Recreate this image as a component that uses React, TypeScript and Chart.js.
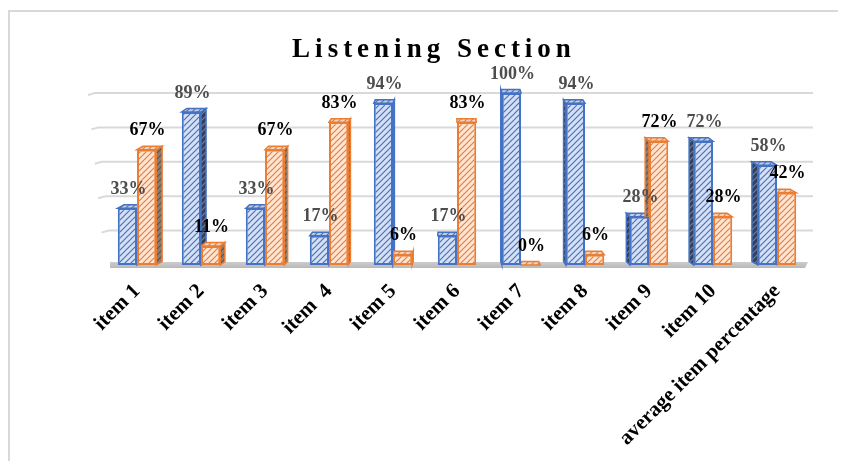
import React, { useEffect, useRef } from "react";
import { Chart, registerables } from "chart.js";

Chart.register(...registerables);

const categories = [
  "item 1",
  "item 2",
  "item 3",
  "item  4",
  "item 5",
  "item 6",
  "item 7",
  "item 8",
  "item 9",
  "item 10",
  "average item percentage",
];
const seriesBlue = [33, 89, 33, 17, 94, 17, 100, 94, 28, 72, 58];
const seriesOrange = [67, 11, 67, 83, 6, 83, 0, 6, 72, 28, 42];
const yTickValues = [0, 20, 40, 60, 80, 100];
const titleText = "Listening Section";

const SERIF = '"Liberation Serif", "Times New Roman", serif';

function makePattern(bg: string, fg: string, size = 6, lw = 1.2): CanvasPattern | string {
  const c = document.createElement("canvas");
  c.width = size;
  c.height = size;
  const g = c.getContext("2d");
  if (!g) return bg;
  g.fillStyle = bg;
  g.fillRect(0, 0, size, size);
  g.strokeStyle = fg;
  g.lineWidth = lw;
  g.beginPath();
  g.moveTo(0, size);
  g.lineTo(size, 0);
  g.moveTo(-size / 2, size / 2);
  g.lineTo(size / 2, -size / 2);
  g.moveTo(size / 2, size + size / 2);
  g.lineTo(size + size / 2, size / 2);
  g.stroke();
  const p = g.createPattern(c, "repeat");
  return p || bg;
}

export default function App() {
  const ref = useRef<HTMLCanvasElement | null>(null);

  useEffect(() => {
    if (!ref.current) return;
    const blueFront = makePattern("#d6e0f2", "#4472c4");
    const orangeFront = makePattern("#fde6d8", "#ed7d31");
    const blueSide = makePattern("#34405a", "#6d80a8");
    const orangeSide = makePattern("#8d7d72", "#5f5550");
    const blueTop = makePattern("#c3cde0", "#4472c4");
    const orangeTop = makePattern("#e9d6ca", "#ed7d31");

    const sides = [
      { side: blueSide, top: blueTop, border: "#4472c4", label: "#4d4d4d" },
      { side: orangeSide, top: orangeTop, border: "#ed7d31", label: "#000000" },
    ];

    const decor = {
      id: "decor",
      beforeDraw(chart: any) {
        const ctx = chart.ctx;
        ctx.save();
        ctx.strokeStyle = "#d9d9d9";
        ctx.lineWidth = 2;
        ctx.beginPath();
        ctx.moveTo(1, chart.height);
        ctx.lineTo(1, 3);
        ctx.lineTo(chart.width, 3);
        ctx.stroke();
        // title
        ctx.fillStyle = "#000000";
        ctx.font = `bold 27px ${SERIF}`;
        (ctx as any).letterSpacing = "5px";
        ctx.textAlign = "center";
        ctx.textBaseline = "alphabetic";
        ctx.fillText(titleText, 426, 49);
        (ctx as any).letterSpacing = "0px";
        ctx.restore();
      },
      beforeDatasetsDraw(chart: any) {
        const ctx = chart.ctx;
        const ys = chart.scales.y;
        const area = chart.chartArea;
        const top = ys.getPixelForValue(100);
        const bottom = ys.getPixelForValue(0);
        ctx.save();
        // gridlines with a slanted back wall edge
        ctx.strokeStyle = "#d9d9d9";
        ctx.lineWidth = 2;
        yTickValues.forEach((v) => {
          if (v === 0) return;
          const y = ys.getPixelForValue(v);
          const sx = area.left - 10 + 17 * ((y - top) / (bottom - top));
          ctx.beginPath();
          ctx.moveTo(sx - 7, y + 2);
          ctx.lineTo(sx, y);
          ctx.lineTo(area.right + 4, y);
          ctx.stroke();
        });
        // floor
        const fy = bottom;
        const grad = ctx.createLinearGradient(0, fy - 4, 0, fy + 3);
        grad.addColorStop(0, "#d0d0d0");
        grad.addColorStop(1, "#b8b8b8");
        ctx.fillStyle = grad;
        ctx.beginPath();
        ctx.moveTo(area.left + 5, fy - 3);
        ctx.lineTo(area.right - 1, fy - 3);
        ctx.lineTo(area.right - 4, fy + 3);
        ctx.lineTo(area.left + 5, fy + 3);
        ctx.closePath();
        ctx.fill();

        // 3D side and top faces
        const vc = (area.left + area.right) / 2;
        chart.data.datasets.forEach((_ds: any, di: number) => {
          const meta = chart.getDatasetMeta(di);
          const st = sides[di];
          meta.data.forEach((bar: any) => {
            const { x, y, base, width } = bar.getProps(["x", "y", "base", "width"], true);
            const x0 = x - width / 2;
            const x1 = x + width / 2;
            const d = (vc - x) * 0.019;
            const h = 3.5;
            ctx.lineWidth = 1.5;
            ctx.strokeStyle = st.border;
            const sx = d >= 0 ? x1 : x0;
            if (Math.abs(d) > 0.8) {
              ctx.fillStyle = st.side;
              ctx.beginPath();
              ctx.moveTo(sx, y);
              ctx.lineTo(sx + d, y - h);
              ctx.lineTo(sx + d, base - h);
              ctx.lineTo(sx, base);
              ctx.closePath();
              ctx.fill();
              ctx.stroke();
            }
            ctx.fillStyle = st.top;
            ctx.beginPath();
            ctx.moveTo(x0, y);
            ctx.lineTo(x0 + d, y - h);
            ctx.lineTo(x1 + d, y - h);
            ctx.lineTo(x1, y);
            ctx.closePath();
            ctx.fill();
            ctx.stroke();
          });
        });
        ctx.restore();
      },
      afterDatasetsDraw(chart: any) {
        const ctx = chart.ctx;
        ctx.save();
        ctx.font = `bold 18px ${SERIF}`;
        ctx.textAlign = "center";
        ctx.textBaseline = "middle";
        chart.data.datasets.forEach((ds: any, di: number) => {
          const meta = chart.getDatasetMeta(di);
          ctx.fillStyle = sides[di].label;
          meta.data.forEach((bar: any, i: number) => {
            const { x, y } = bar.getProps(["x", "y"], true);
            ctx.fillText(`${ds.data[i]}%`, x + 1, y - 19);
          });
        });
        ctx.restore();
      },
    };

    const chart = new Chart(ref.current, {
      type: "bar",
      data: {
        labels: categories,
        datasets: [
          {
            label: "Series 1",
            data: seriesBlue,
            backgroundColor: blueFront as any,
            borderColor: "#4472c4",
            borderWidth: 2,
            borderSkipped: false,
            categoryPercentage: 0.6,
            barPercentage: 1,
          },
          {
            label: "Series 2",
            data: seriesOrange,
            backgroundColor: orangeFront as any,
            borderColor: "#ed7d31",
            borderWidth: 2,
            borderSkipped: false,
            categoryPercentage: 0.6,
            barPercentage: 1,
          },
        ],
      },
      options: {
        animation: false,
        responsive: true,
        maintainAspectRatio: false,
        layout: { padding: { top: 85, left: 97, right: 29, bottom: 10 } },
        plugins: {
          legend: { display: false },
          title: { display: false },
          tooltip: { enabled: false },
        },
        scales: {
          x: {
            grid: { display: false },
            border: { display: false },
            afterFit: (scale: any) => {
              scale.height = 186;
            },
            ticks: {
              autoSkip: false,
              minRotation: 45,
              maxRotation: 45,
              color: "#000000",
              padding: 6,
              font: { family: SERIF, size: 21, weight: "bold" },
            },
          },
          y: {
            display: false,
            min: 0,
            max: 100,
            ticks: { stepSize: 20 },
          },
        },
      },
      plugins: [decor],
    });
    return () => chart.destroy();
  }, []);

  return (
    <div style={{ width: 830, height: 453, position: "relative" }}>
      <canvas ref={ref} />
    </div>
  );
}
